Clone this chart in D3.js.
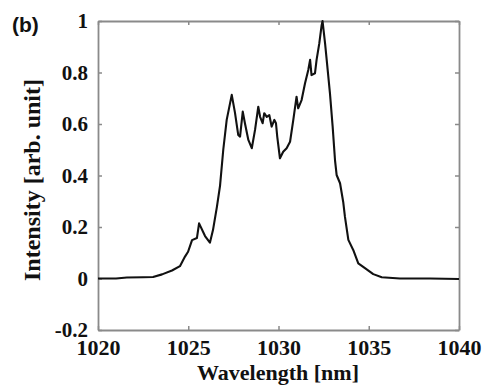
<!DOCTYPE html>
<html>
<head>
<meta charset="utf-8">
<script src="https://cdn.jsdelivr.net/npm/d3@7"></script>
<style>
  body { margin: 0; background: #fff; }
</style>
</head>
<body>
<script>
'use strict';

// spectrum
const wavelength = [1020.0, 1021.0, 1021.6, 1022.5, 1023.05, 1023.55, 1024.1, 1024.54, 1024.82, 1024.99,
  1025.21, 1025.48, 1025.6, 1025.93, 1026.2, 1026.37, 1026.59, 1026.76, 1026.94, 1027.13,
  1027.41, 1027.59, 1027.77, 1027.87, 1028.02, 1028.14, 1028.33, 1028.52, 1028.7, 1028.88,
  1028.98, 1029.12, 1029.21, 1029.35, 1029.49, 1029.62, 1029.77, 1029.86, 1029.93, 1030.08,
  1030.26, 1030.45, 1030.64, 1030.82, 1031.0, 1031.09, 1031.28, 1031.47, 1031.65, 1031.75,
  1031.83, 1032.02, 1032.11, 1032.26, 1032.39, 1032.44, 1032.58, 1032.67, 1032.85, 1033.0,
  1033.13, 1033.22, 1033.41, 1033.59, 1033.68, 1033.87, 1034.14, 1034.42, 1034.79, 1035.25,
  1035.72, 1036.73, 1038.4, 1040.0];
const intensity = [0.0, 0.0, 0.004, 0.005, 0.006, 0.016, 0.031, 0.048, 0.085, 0.104,
  0.149, 0.157, 0.214, 0.165, 0.139, 0.188, 0.279, 0.36, 0.5, 0.616,
  0.713, 0.643, 0.557, 0.551, 0.648, 0.603, 0.538, 0.506, 0.577, 0.667,
  0.628, 0.603, 0.642, 0.628, 0.635, 0.59, 0.616, 0.603, 0.551, 0.467,
  0.492, 0.506, 0.531, 0.616, 0.706, 0.661, 0.693, 0.758, 0.81, 0.849,
  0.79, 0.797, 0.849, 0.913, 0.984, 1.0, 0.913, 0.849, 0.72, 0.59,
  0.46, 0.402, 0.37, 0.295, 0.24, 0.15, 0.111, 0.059, 0.04, 0.017,
  0.005, 0.0, 0.0, -0.002];

const xTicks = [1020, 1025, 1030, 1035, 1040];
const xTickLabels = ["1020", "1025", "1030", "1035", "1040"];
const yTicks = [-0.2, 0, 0.2, 0.4, 0.6, 0.8, 1];
const yTickLabels = ["-0.2", "0", "0.2", "0.4", "0.6", "0.8", "1"];

const width = 485, height = 387;
const margin = {top: 21, right: 26, bottom: 57, left: 98};
const axisColor = "#8a8a8a";
const serif = "'Liberation Serif', 'Times New Roman', serif";

let svg = d3.select("body").append("svg")
  .attr("width", width)
  .attr("height", height);

let x = d3.scaleLinear().domain([1020, 1040]).range([margin.left, width - margin.right]);
let y = d3.scaleLinear().domain([-0.2, 1]).range([height - margin.bottom, margin.top]);

// box with inward ticks on all four sides
function styleAxis(g) {
  g.select(".domain").attr("stroke", axisColor).attr("stroke-width", 1.8);
  g.selectAll(".tick line").attr("stroke", axisColor).attr("stroke-width", 1.5);
  g.selectAll(".tick text")
    .style("font-family", serif)
    .style("font-weight", "bold")
    .style("fill", "#111");
}

svg.append("g")
  .attr("transform", "translate(0," + (height - margin.bottom) + ")")
  .call(d3.axisBottom(x).tickValues(xTicks).tickFormat((d, i) => xTickLabels[i])
    .tickSizeInner(-4).tickSizeOuter(0).tickPadding(10))
  .call(styleAxis)
  .call(g => g.selectAll(".tick text").style("font-size", "22px").attr("dy", "0.7em"));

svg.append("g")
  .attr("transform", "translate(0," + margin.top + ")")
  .call(d3.axisTop(x).tickValues(xTicks).tickFormat("").tickSizeInner(-4).tickSizeOuter(0))
  .call(styleAxis);

svg.append("g")
  .attr("transform", "translate(" + margin.left + ",0)")
  .call(d3.axisLeft(y).tickValues(yTicks).tickFormat((d, i) => yTickLabels[i])
    .tickSizeInner(-4).tickSizeOuter(0).tickPadding(10))
  .call(styleAxis)
  .call(g => g.selectAll(".tick text").style("font-size", "21px"));

svg.append("g")
  .attr("transform", "translate(" + (width - margin.right) + ",0)")
  .call(d3.axisRight(y).tickValues(yTicks).tickFormat("").tickSizeInner(-4).tickSizeOuter(0))
  .call(styleAxis);

// spectrum line
let line = d3.line()
  .x((d, i) => x(wavelength[i]))
  .y(d => y(d));

svg.append("path")
  .datum(intensity)
  .attr("fill", "none")
  .attr("stroke", "#111")
  .attr("stroke-width", 2.1)
  .attr("stroke-linejoin", "round")
  .attr("d", line);

// labels
svg.append("text")
  .attr("x", 278)
  .attr("y", 380)
  .attr("text-anchor", "middle")
  .style("font-family", serif)
  .style("font-weight", "bold")
  .style("font-size", "22px")
  .style("fill", "#111")
  .text("Wavelength [nm]");

svg.append("text")
  .attr("transform", "translate(40,180)rotate(-90)")
  .attr("text-anchor", "middle")
  .style("font-family", serif)
  .style("font-weight", "bold")
  .style("font-size", "24px")
  .style("fill", "#111")
  .text("Intensity [arb. unit]");

svg.append("text")
  .attr("x", 12)
  .attr("y", 32)
  .style("font-family", "'Liberation Sans', Arial, sans-serif")
  .style("font-weight", "bold")
  .style("font-size", "21px")
  .style("fill", "#111")
  .text("(b)");
</script>
</body>
</html>
